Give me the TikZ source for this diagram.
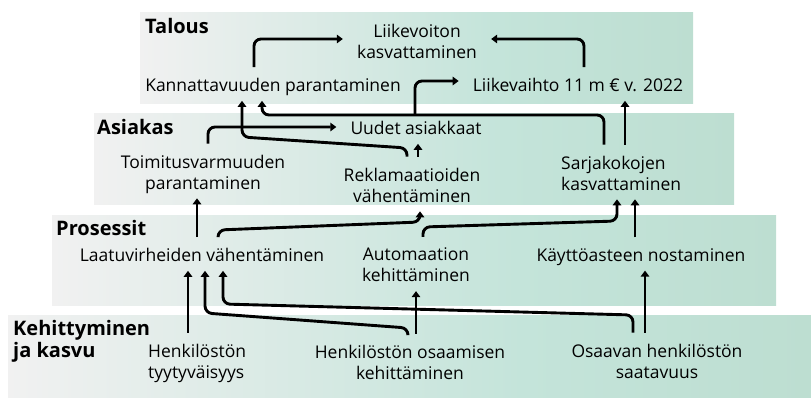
\documentclass[tikz,border=0pt]{standalone}
\usepackage{fontspec}
\setmainfont{Open Sans}
\usetikzlibrary{arrows.meta}
\definecolor{bandL}{RGB}{241,241,241}
\definecolor{bandM}{RGB}{196,228,218}
\definecolor{bandR}{RGB}{189,222,209}
\pgfdeclarehorizontalshading{bandshade}{100bp}{color(0bp)=(bandL); color(25bp)=(bandL); color(57bp)=(bandM); color(75bp)=(bandR); color(100bp)=(bandR)}

\begin{document}
\begin{tikzpicture}[x=1pt, y=-1pt,
    band/.style={shading=bandshade},
    lbl/.style={font=\fontsize{17.5}{21}\selectfont, align=center, inner xsep=14pt, inner ysep=5pt, text depth=4pt},
    head/.style={font=\bfseries\fontsize{20}{22}\selectfont, inner sep=0pt, align=left},
    link/.style={line width=2.9pt, rounded corners=7pt, shorten <=6pt, -{Triangle[length=6pt, width=8.5pt]}}]
  \useasboundingbox (0,0) rectangle (811,399);
  \shade[band] (140,12) rectangle (693,103);
  \shade[band] (94,113) rectangle (734,204);
  \shade[band] (52,215) rectangle (776,305);
  \shade[band] (8,315) rectangle (811,397);

  \node[head, anchor=base west] (talous) at (145,33) {Talous};
  \node[head, anchor=base west] (asiakas) at (97,134) {Asiakas};
  \node[head, anchor=base west] (prosessit) at (56,235) {Prosessit};
  \node[head, anchor=north west] (kehitys) at (13,320) {Kehittyminen\\ja kasvu};

  \node[lbl] (liikevoitto) at (417,43) {Liikevoiton\\kasvattaminen};
  \node[lbl] (kann) at (273,87) {Kannattavuuden parantaminen};
  \node[lbl] (liikevaihto) at (578,87) {Liikevaihto 11 m € v. 2022};
  \node[lbl] (uudet) at (416,130) {Uudet asiakkaat};
  \node[lbl] (toimitus) at (203,174) {Toimitusvarmuuden\\parantaminen};
  \node[lbl] (rekl) at (412,187) {Reklamaatioiden\\vähentäminen};
  \node[lbl, align=left, anchor=west] (sarja) at (547,175) {Sarjakokojen\\kasvattaminen};
  \node[lbl] (laatu) at (202,257) {Laatuvirheiden vähentäminen};
  \node[lbl] (autom) at (416,267) {Automaation\\kehittäminen};
  \node[lbl] (kaytto) at (641,257) {Käyttöasteen nostaminen};
  \node[lbl, align=left, anchor=west] (tyyty) at (134,363) {Henkilöstön\\tyytyväisyys};
  \node[lbl] (osaam) at (410,364) {Henkilöstön osaamisen\\kehittäminen};
  \node[lbl] (osaavan) at (657,363) {Osaavan henkilöstön\\saatavuus};

  \draw[link] (254,0 |- kann.north) |- (liikevoitto.west |- 0,39);
  \draw[link] (584,0 |- liikevaihto.north) |- (liikevoitto.east |- 0,39);
  \draw[link, shorten <=1pt] (415,0 |- uudet.north) |- (liikevaihto.west |- 0,81);
  \draw[link] (625,0 |- sarja.north) -- (625,0 |- liikevaihto.south);
  \draw[link] (407,0 |- rekl.north) -- (407,148) -- (242,137) -- (242,0 |- kann.south);
  \draw[link] (604,0 |- sarja.north) |- (262,115) -- (262,0 |- kann.south);
  \draw[link] (208,0 |- toimitus.north) |- (uudet.west |- 0,127);
  \draw[link] (418,0 |- rekl.north) -- (418,0 |- uudet.south);
  \draw[link] (197,0 |- laatu.north) -- (197,0 |- toimitus.south);
  \draw[link] (218,0 |- laatu.north) -- (218,230) -- (420,222) -- (420,0 |- rekl.south);
  \draw[link] (423,0 |- autom.north) -- (423,227) -- (617,221) -- (617,0 |- sarja.south);
  \draw[link] (635,0 |- kaytto.north) -- (635,0 |- sarja.south);
  \draw[link] (188,0 |- tyyty.north) -- (188,0 |- laatu.south);
  \draw[link] (408,0 |- osaam.north) -- (408,328) -- (205,313) -- (205,0 |- laatu.south);
  \draw[link] (416,0 |- osaam.north) -- (416,0 |- autom.south);
  \draw[link] (645,0 |- osaavan.north) -- (645,0 |- kaytto.south);
  \draw[link] (633,0 |- osaavan.north) -- (633,315) -- (223,304) -- (223,0 |- laatu.south);
\end{tikzpicture}
\end{document}
